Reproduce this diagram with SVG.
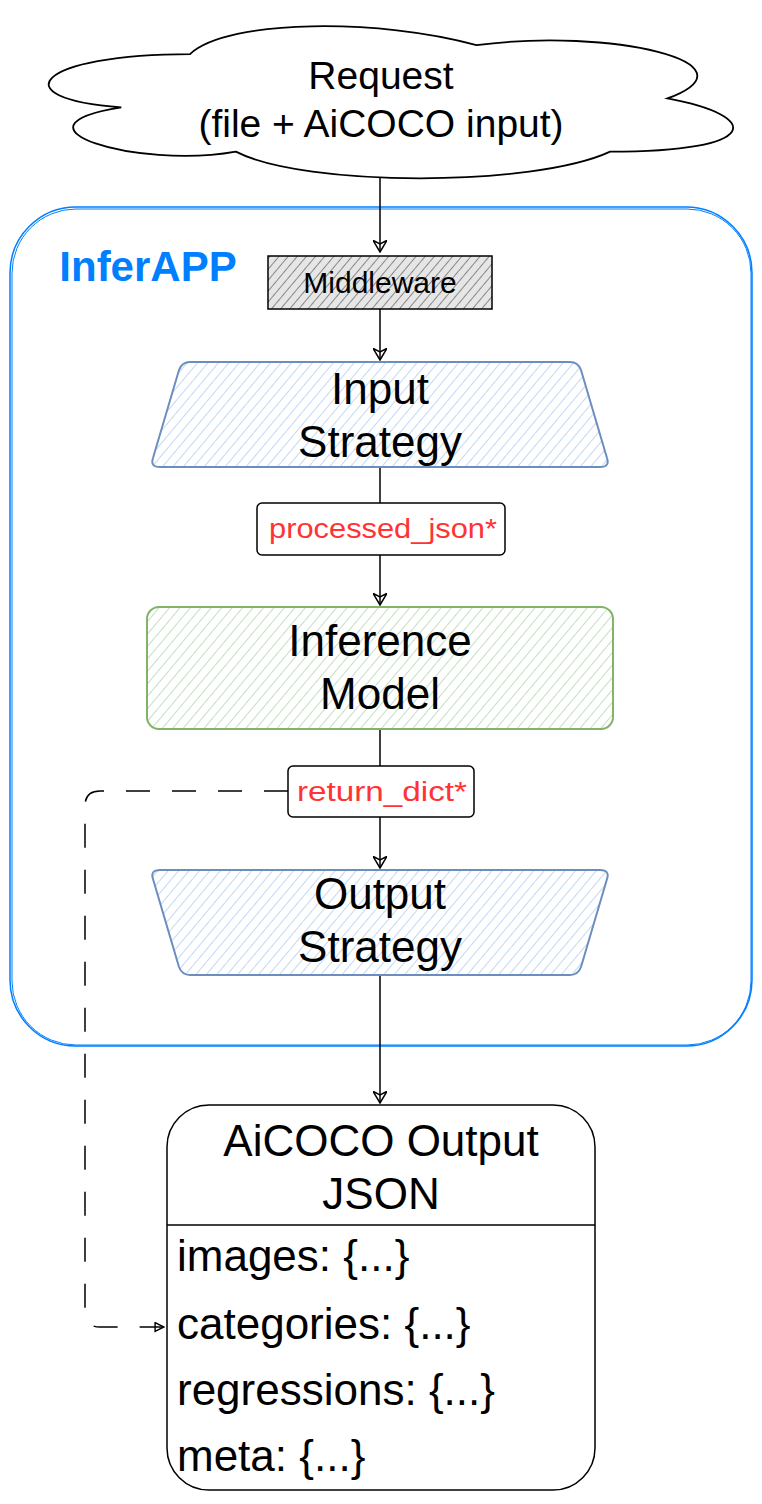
<svg xmlns="http://www.w3.org/2000/svg" width="762" height="1504" viewBox="0 0 762 1504">
<style>
text{font-family:"Liberation Sans",Arial,sans-serif;fill:#000;text-anchor:middle}
.big{font-size:44px}
.lbl{font-size:27px;fill:#FF3333}
.item{font-size:44px;text-anchor:start}
.edge{fill:none;stroke:#000;stroke-width:1.5}
</style>
<defs>
<pattern id="hBlue" patternUnits="userSpaceOnUse" width="8" height="8" patternTransform="rotate(40)">
<rect width="8" height="8" fill="#fff"/>
<line x1="0" y1="0" x2="0" y2="8" stroke="#c3d8f5" stroke-width="2"/>
</pattern>
<pattern id="hGreen" patternUnits="userSpaceOnUse" width="8" height="8" patternTransform="rotate(40)">
<rect width="8" height="8" fill="#fff"/>
<line x1="0" y1="0" x2="0" y2="8" stroke="#c4dfc2" stroke-width="2"/>
</pattern>
<pattern id="hGray" patternUnits="userSpaceOnUse" width="7" height="7" patternTransform="rotate(40)">
<rect width="7" height="7" fill="#e6e6e6"/>
<line x1="0" y1="0" x2="0" y2="7" stroke="#555" stroke-width="1.3"/>
</pattern>
<marker id="arr" viewBox="0 0 10 12" refX="10" refY="6" markerWidth="13" markerHeight="14" markerUnits="userSpaceOnUse" orient="auto">
<path d="M0,0 L10,6 L0,12 L3,6 Z" fill="none" stroke="#000" stroke-width="1.3"/>
</marker>
<marker id="blk" viewBox="0 0 10 10" refX="10" refY="5" markerWidth="11" markerHeight="11" markerUnits="userSpaceOnUse" orient="auto">
<path d="M1,1 L9,5 L1,9 Z" fill="none" stroke="#000" stroke-width="1.3"/>
</marker>
</defs>

<g id="inferapp">
<rect x="10" y="207" width="742" height="839" rx="66" fill="none" stroke="#007FFF" stroke-width="1.5"/>
<rect x="12" y="209" width="739" height="836" rx="64" fill="none" stroke="#007FFF" stroke-width="1"/>
<text x="148" y="281" style="font-size:42px;font-weight:bold;fill:#007FFF">InferAPP</text>
</g>

<g id="connectors">
<path class="edge" d="M380,177 L380,252" marker-end="url(#arr)"/>
<path class="edge" d="M380,309 L380,360" marker-end="url(#arr)"/>
<path class="edge" d="M380,467 L380,605" marker-end="url(#arr)"/>
<path class="edge" d="M380,729 L380,868" marker-end="url(#arr)"/>
<path class="edge" d="M380,975 L380,1103" marker-end="url(#arr)"/>
<path class="edge" d="M288,791 L100,791 Q85,791 85,806 L85,1312 Q85,1327 100,1327 L165,1327" stroke-dasharray="24 22" stroke-width="2" marker-end="url(#blk)"/>
</g>

<g id="request">
<path transform="translate(381,99) scale(1.12,1.16) translate(-381,-99)" vector-effect="non-scaling-stroke" d="M210.5,60.25 C74.1,60.25 40,98.5 149.1,106.15 C40,123 162.8,159.7 251.4,144.4 C312.8,175 517.4,175 585.6,144.4 C722,144.4 722,113.8 636.75,98.5 C722,67.9 585.6,37.3 466.25,52.6 C381,29.65 244.6,29.65 210.5,60.25 Z" fill="#fff" stroke="#000" stroke-width="1.8"/>
<text x="381" y="89" style="font-size:39px">Request</text>
<text x="381" y="137" style="font-size:39px">(file + AiCOCO input)</text>
</g>

<g id="middleware">
<rect x="268" y="256" width="224" height="53" fill="url(#hGray)" stroke="#000" stroke-width="1.5"/>
<text x="380" y="293" style="font-size:30px">Middleware</text>
</g>

<g id="input-strategy">
<path d="M190,362 L570,362 Q578,362 581,370 L607,458 Q610,467 600,467 L160,467 Q150,467 153,458 L179,370 Q182,362 190,362 Z" fill="url(#hBlue)" stroke="#6c8ebf" stroke-width="2"/>
<text class="big" x="380" y="404">Input</text>
<text class="big" x="380" y="457">Strategy</text>
</g>

<g id="processed-json">
<rect x="257" y="503" width="248" height="52" rx="5" fill="#fff" stroke="#000" stroke-width="1.5"/>
<text class="lbl" x="383" y="538" textLength="228" lengthAdjust="spacingAndGlyphs">processed_json*</text>
</g>

<g id="inference-model">
<rect x="147" y="607" width="466" height="122" rx="12" fill="url(#hGreen)" stroke="#82b366" stroke-width="2"/>
<text class="big" x="380" y="656">Inference</text>
<text class="big" x="380" y="709">Model</text>
</g>

<g id="return-dict">
<rect x="288" y="766" width="186" height="51" rx="5" fill="#fff" stroke="#000" stroke-width="1.5"/>
<text class="lbl" x="382" y="801" textLength="170" lengthAdjust="spacingAndGlyphs">return_dict*</text>
</g>

<g id="output-strategy">
<path d="M160,870 L600,870 Q610,870 607,879 L581,967 Q578,975 570,975 L190,975 Q182,975 179,967 L153,879 Q150,870 160,870 Z" fill="url(#hBlue)" stroke="#6c8ebf" stroke-width="2"/>
<text class="big" x="380" y="909">Output</text>
<text class="big" x="380" y="962">Strategy</text>
</g>

<g id="aicoco-output">
<rect x="167" y="1105" width="428" height="385" rx="42" fill="#fff" stroke="#000" stroke-width="1.5"/>
<line x1="167" y1="1225" x2="595" y2="1225" stroke="#000" stroke-width="1.5"/>
<text class="big" x="381" y="1156">AiCOCO Output</text>
<text class="big" x="381" y="1209">JSON</text>
<text class="item" x="177" y="1271">images: {...}</text>
<text class="item" x="177" y="1339">categories: {...}</text>
<text class="item" x="177" y="1405">regressions: {...}</text>
<text class="item" x="177" y="1471">meta: {...}</text>
</g>
</svg>
